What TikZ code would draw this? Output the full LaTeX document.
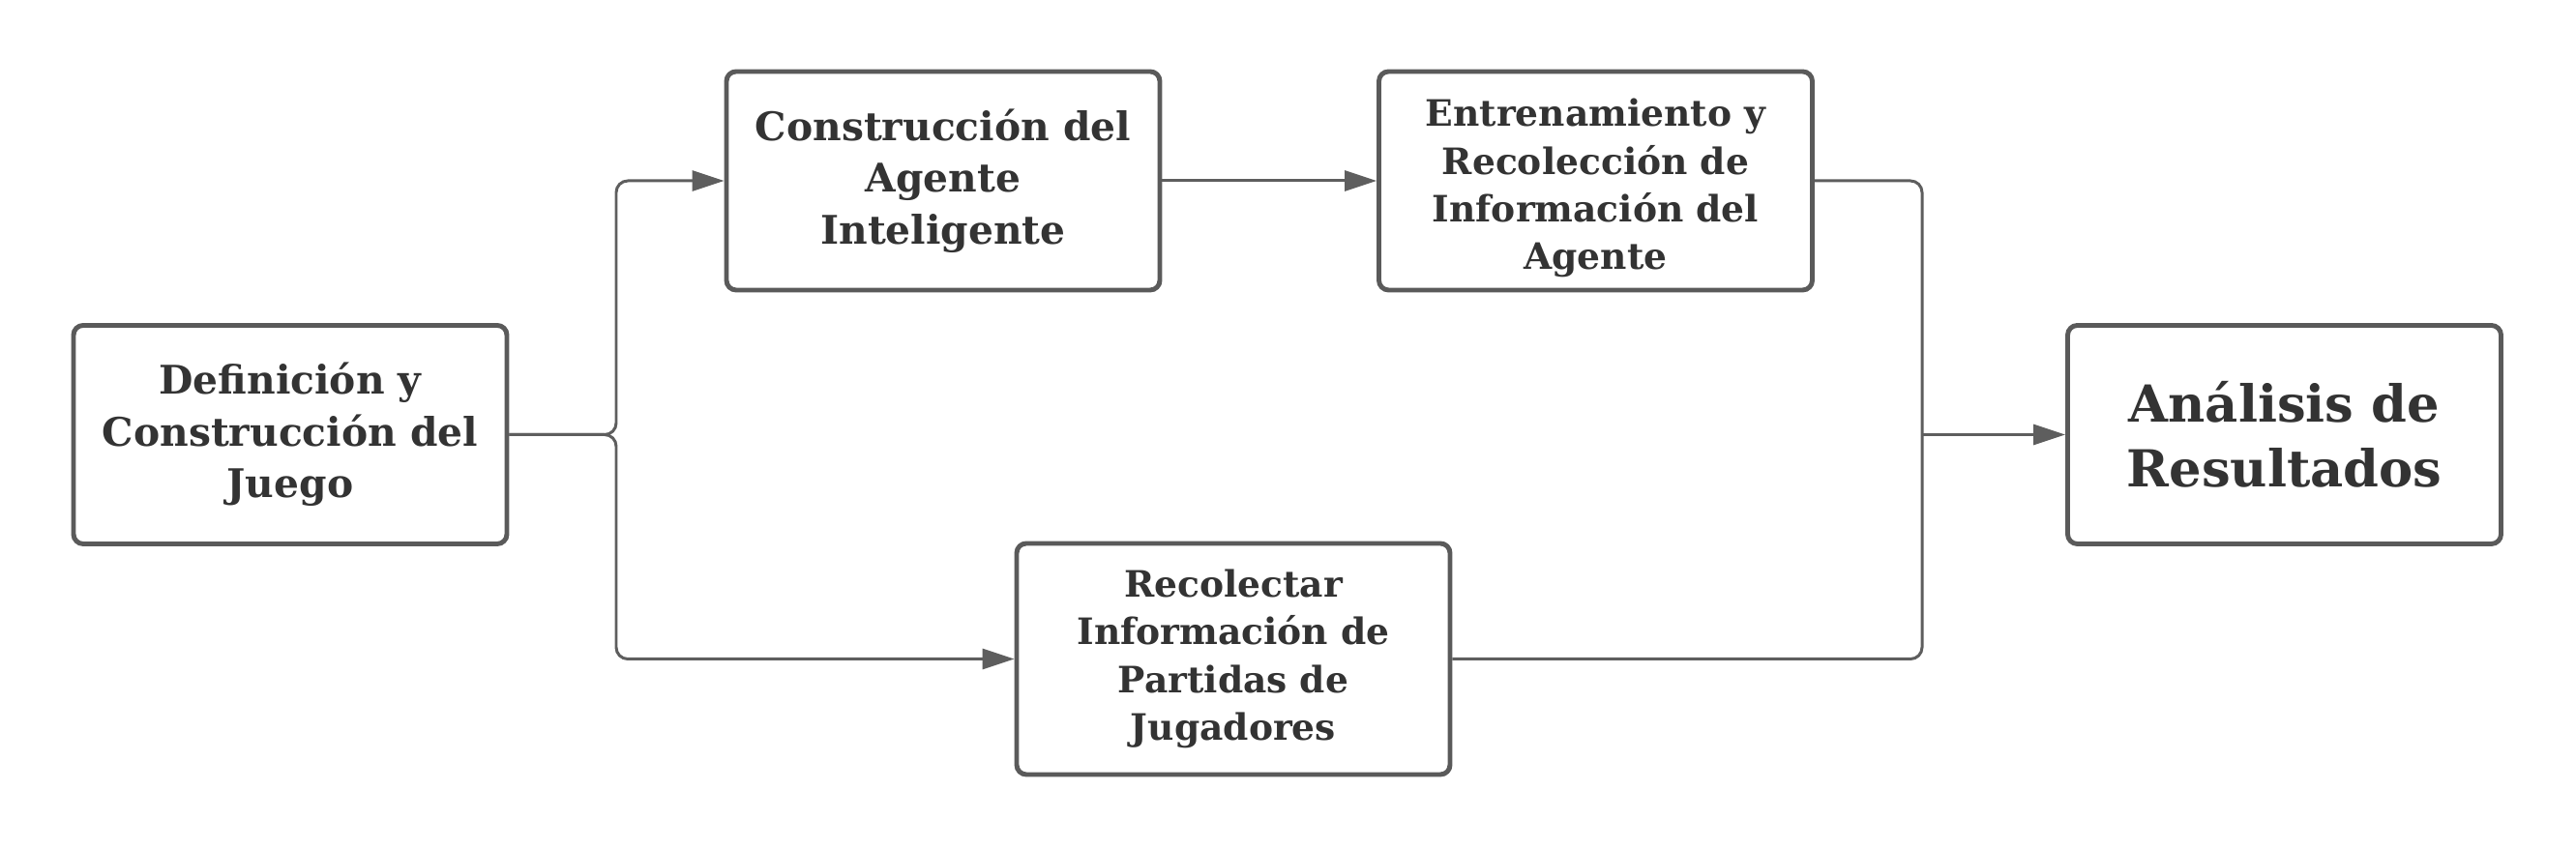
\documentclass[tikz,border=0pt]{standalone}
\usepackage{fontspec}
\setmainfont{DejaVu Serif}
\usetikzlibrary{arrows.meta}
\definecolor{boxline}{HTML}{5A5A5A}
\definecolor{conline}{HTML}{5E5E5E}
\definecolor{boxtext}{HTML}{333333}
\begin{document}
\begin{tikzpicture}[
    etapa/.style={shape=rectangle,draw=boxline,line width=1.4pt,rounded corners=0.1cm,
        minimum width=4.48cm,minimum height=2.26cm,inner sep=0pt,align=center,
        text=boxtext,font=\bfseries\fontsize{11.6}{15.2}\selectfont},
    flecha/.style={draw=conline,line width=0.85pt,rounded corners=0.12cm,
        -{Triangle[length=3.3mm,width=2.1mm]}}
    ]
                \useasboundingbox (0,0) rectangle (26.63,8.78);

                \node[etapa] (juego) at (3.00,4.285) {Definición y\\Construcción del\\Juego};
                \node[etapa] (agente) at (9.75,6.91) {Construcción del\\Agente\\Inteligente};
                \node[etapa, font=\bfseries\fontsize{10.7}{14}\selectfont] (entrena) at (16.495,6.91) {\rule{0pt}{12.5pt}Entrenamiento y\\Recolección de\\Información del\\Agente};
                \node[etapa, minimum height=2.39cm, font=\bfseries\fontsize{10.7}{14}\selectfont] (partidas) at (12.75,1.965) {Recolectar\\Información de\\Partidas de\\Jugadores};
                \node[etapa, font=\bfseries\fontsize{15}{19.2}\selectfont] (analisis) at (23.615,4.285) {Análisis de\\Resultados};

                \coordinate (rama) at (6.37,4.285);
                \coordinate (union) at (19.87,4.285);

                \draw[flecha] (juego.east) -- (rama) |- (agente.west);
                \draw[flecha] (juego.east) -- (rama) |- (partidas.west);
                \draw[flecha] (agente.east) -- (entrena.west);

                \draw[flecha, -] (entrena.east) -| (union) |- (partidas.east);
                \draw[flecha] (union) -- (analisis.west);

            \end{tikzpicture}
\end{document}
